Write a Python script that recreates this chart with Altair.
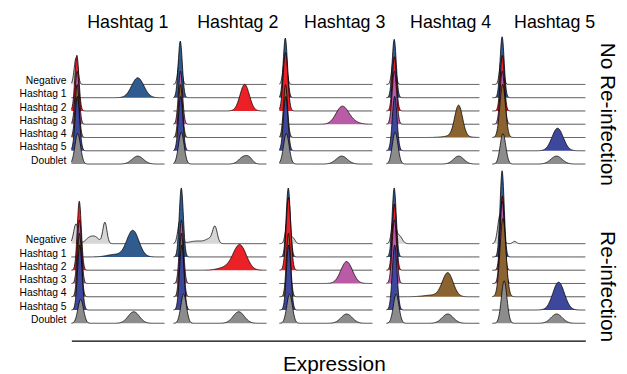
import altair as alt
import pandas as pd

# ---------------- data ----------------
rows = ["No Re-infection", "Re-infection"]
cols = ["Hashtag 1", "Hashtag 2", "Hashtag 3", "Hashtag 4", "Hashtag 5"]
classes = ["Negative", "Hashtag 1", "Hashtag 2", "Hashtag 3", "Hashtag 4", "Hashtag 5", "Doublet"]
class_colors = ["#d6d6d6", "#2f5b8f", "#ec2027", "#b95ba6", "#8a6331", "#3d479c", "#8c8c8c"]

# peaks of each ridge: (class index, centre, spread, height in ridge units)
peaks_r0_c0 = [(0, 0.50, 0.20, 2.0), (1, 7.13, 0.65, 1.5), (2, 0.59, 0.22, 4.2),
               (3, 0.62, 0.22, 4.0), (4, 0.62, 0.22, 4.0), (5, 0.64, 0.24, 4.1),
               (6, 0.68, 0.30, 2.3), (6, 7.13, 0.60, 0.6)]
peaks_r0_c1 = [(0, 0.70, 0.20, 2.0), (1, 0.74, 0.22, 4.27), (2, 7.66, 0.50, 2.0),
               (3, 0.76, 0.22, 4.0), (4, 0.76, 0.22, 4.0), (5, 0.78, 0.24, 4.1),
               (6, 0.85, 0.30, 2.4), (6, 7.55, 0.50, 0.55), (6, 8.20, 0.35, 0.3)]
peaks_r0_c2 = [(0, 0.60, 0.20, 2.0), (1, 0.64, 0.22, 4.5), (2, 0.66, 0.25, 4.4),
               (3, 6.70, 0.65, 1.15), (3, 7.40, 0.80, 0.3), (4, 0.66, 0.22, 4.0),
               (5, 0.68, 0.24, 4.1), (6, 0.75, 0.30, 2.3), (6, 6.70, 0.60, 0.6)]
peaks_r0_c3 = [(0, 0.80, 0.20, 2.0), (1, 0.85, 0.22, 4.4), (2, 0.87, 0.22, 4.1),
               (3, 0.87, 0.24, 4.0), (4, 7.77, 0.42, 2.3), (4, 7.40, 1.00, 0.15),
               (5, 0.90, 0.25, 4.1), (6, 0.95, 0.30, 2.4), (6, 7.77, 0.55, 0.6)]
peaks_r0_c4 = [(0, 1.00, 0.20, 2.0), (1, 1.06, 0.22, 4.6), (2, 1.08, 0.22, 4.2),
               (3, 1.08, 0.24, 4.0), (4, 1.12, 0.30, 4.0), (5, 7.02, 0.60, 1.7),
               (6, 1.15, 0.30, 2.3), (6, 6.90, 0.60, 0.6)]
peaks_r1_c0 = [(0, 0.50, 0.25, 1.5), (0, 1.90, 0.40, 0.4), (0, 2.60, 0.40, 0.45), (0, 3.60, 0.22, 1.6),
               (1, 6.60, 0.65, 2.0), (1, 4.60, 0.80, 0.18), (2, 0.85, 0.22, 5.2),
               (3, 0.87, 0.22, 4.8), (4, 0.87, 0.22, 4.8), (5, 0.90, 0.24, 4.9),
               (6, 1.00, 0.30, 1.8), (6, 6.70, 0.60, 0.87)]
peaks_r1_c1 = [(0, 0.70, 0.22, 1.7), (0, 2.60, 0.90, 0.2), (0, 3.90, 0.40, 0.3), (0, 4.47, 0.25, 1.2),
               (1, 0.85, 0.22, 5.2), (2, 7.13, 0.70, 1.9), (2, 5.60, 0.80, 0.2),
               (3, 0.87, 0.22, 4.8), (4, 0.87, 0.22, 4.8), (5, 0.90, 0.24, 4.9),
               (6, 1.10, 0.30, 2.2), (6, 7.02, 0.60, 0.87)]
peaks_r1_c2 = [(0, 0.90, 0.22, 1.8), (0, 1.50, 0.20, 0.4), (1, 0.96, 0.22, 5.2),
               (2, 0.98, 0.25, 5.5), (3, 7.23, 0.62, 1.65), (4, 0.98, 0.22, 4.8),
               (5, 1.00, 0.24, 4.9), (6, 1.10, 0.30, 2.2), (6, 7.23, 0.60, 0.7)]
peaks_r1_c3 = [(0, 0.80, 0.22, 1.9), (0, 1.40, 0.30, 0.6), (1, 0.85, 0.22, 5.2),
               (2, 0.87, 0.22, 5.0), (3, 0.87, 0.24, 4.8), (4, 6.60, 0.58, 1.8),
               (4, 4.90, 0.90, 0.12), (5, 0.90, 0.25, 4.9), (6, 1.06, 0.30, 2.2),
               (6, 6.60, 0.60, 0.7)]
peaks_r1_c4 = [(0, 0.85, 0.25, 2.2), (0, 2.40, 0.20, 0.17), (1, 1.06, 0.22, 6.5),
               (2, 1.08, 0.22, 5.6), (3, 1.08, 0.24, 6.2), (4, 1.15, 0.32, 5.9),
               (5, 7.13, 0.62, 2.1), (6, 1.28, 0.30, 3.2), (6, 6.92, 0.60, 0.7)]

panels = {
    (0, 0): peaks_r0_c0, (0, 1): peaks_r0_c1, (0, 2): peaks_r0_c2,
    (0, 3): peaks_r0_c3, (0, 4): peaks_r0_c4,
    (1, 0): peaks_r1_c0, (1, 1): peaks_r1_c1, (1, 2): peaks_r1_c2,
    (1, 3): peaks_r1_c3, (1, 4): peaks_r1_c4,
}
records = []
for (r, c), plist in panels.items():
    for (k, ctr, spr, h) in plist:
        records.append({"row": r, "col": c, "cls": k, "c": ctr, "s": spr, "h": h})
peaks = pd.DataFrame(records)

ridge_names = pd.DataFrame(
    [{"row": r, "cls": k, "name": classes[k]} for r in range(len(rows)) for k in range(len(classes))]
)

# ---------------- layout ----------------
PX_UNIT = 9.4          # px per expression unit
STEP = 13.4            # px per ridge step
LEFT = 72              # page x of plot left edge
W = 519
H = 332
XMAX = W / PX_UNIT
YMIN = -1.3
YMAX = YMIN + H / STEP
col_off = [(s - 72) / PX_UNIT for s in [72, 175, 282, 390, 497]]
col_off_expr = "[" + ",".join(f"{v:.4f}" for v in col_off) + "]"
title_off = [(p - 72) / PX_UNIT for p in [129, 240, 348, 455, 560]]
title_off_expr = "[" + ",".join(f"{v:.4f}" for v in title_off) + "]"
BASE_EXPR = "(datum.row == 0 ? 12 : 0) + 6 - datum.cls"

FONT = "Liberation Sans"

xenc = alt.X("x:Q", scale=alt.Scale(domain=[0, XMAX], nice=False, zero=False),
             axis=alt.Axis(domain=True, domainColor="black", domainWidth=1.3,
                           ticks=False, labels=False, grid=False,
                           title="Expression", titleFontSize=21, titleFontWeight="normal",
                           titleColor="black", titleFont=FONT, titlePadding=13,
                           titleX=337 - LEFT))
yscale = alt.Scale(domain=[YMIN, YMAX], nice=False, zero=False)
yenc = alt.Y("top:Q", scale=yscale, axis=None)

ridge_layers = []
for k, col in enumerate(class_colors):
    ridge_layers.append(
        alt.Chart()
        .mark_area(fill=col, fillOpacity=1, strokeWidth=0)
        .encode(x=xenc, y=yenc, y2="base:Q", detail=["row:N", "col:N"])
        .transform_filter(f"datum.cls == {k}")
    )
    ridge_layers.append(
        alt.Chart()
        .mark_line(color="black", strokeWidth=0.75)
        .encode(x=xenc, y=yenc, detail=["row:N", "col:N"])
        .transform_filter(f"datum.cls == {k}")
    )

ridges = (
    alt.layer(*ridge_layers, data=peaks)
    .transform_calculate(xs="sequence(0, 10.001, 0.05)")
    .transform_flatten(["xs"])
    .transform_calculate(d="datum.h * exp(-0.5 * pow((datum.xs - datum.c) / datum.s, 2))")
    .transform_aggregate(dens="sum(d)", groupby=["row", "col", "cls", "xs"])
    .transform_calculate(
        x=f"datum.xs + {col_off_expr}[datum.col]",
        base=BASE_EXPR,
    )
    .transform_calculate(top="datum.base + datum.dens")
)

ridge_labels = (
    alt.Chart(ridge_names)
    .transform_calculate(top=BASE_EXPR, x="0")
    .mark_text(font=FONT, fontSize=10.4, color="black", align="right", baseline="middle", dx=-5, dy=-3.4)
    .encode(x=xenc, y=yenc, text="name:N")
)

headers = (
    alt.Chart(pd.DataFrame({"name": cols, "ci": list(range(len(cols)))}))
    .transform_calculate(x=f"{title_off_expr}[datum.ci]")
    .mark_text(font=FONT, fontSize=18, color="black", align="center", baseline="alphabetic")
    .encode(x=xenc, y=alt.value(16.5), text="name:N")
)

row_top = (
    alt.Chart(pd.DataFrame({"name": [rows[0]]}))
    .mark_text(font=FONT, fontSize=21, color="black", angle=90, align="center", baseline="alphabetic")
    .encode(x=alt.value(607 - LEFT), y=alt.value(103.5), text="name:N")
)
row_bottom = (
    alt.Chart(pd.DataFrame({"name": [rows[1]]}))
    .mark_text(font=FONT, fontSize=21, color="black", angle=90, align="center", baseline="alphabetic")
    .encode(x=alt.value(607 - LEFT), y=alt.value(277.5), text="name:N")
)

chart = (
    alt.layer(ridges, ridge_labels, headers, row_top, row_bottom)
    .properties(width=W, height=H,
                autosize=alt.AutoSizeParams(type="none"),
                padding={"left": LEFT - 8, "top": 2, "right": 34, "bottom": 32})
    .configure(font=FONT)
    .configure_view(stroke="transparent", strokeWidth=0)
)

chart.save("out.html", embed_options={"renderer": "svg", "actions": False})
